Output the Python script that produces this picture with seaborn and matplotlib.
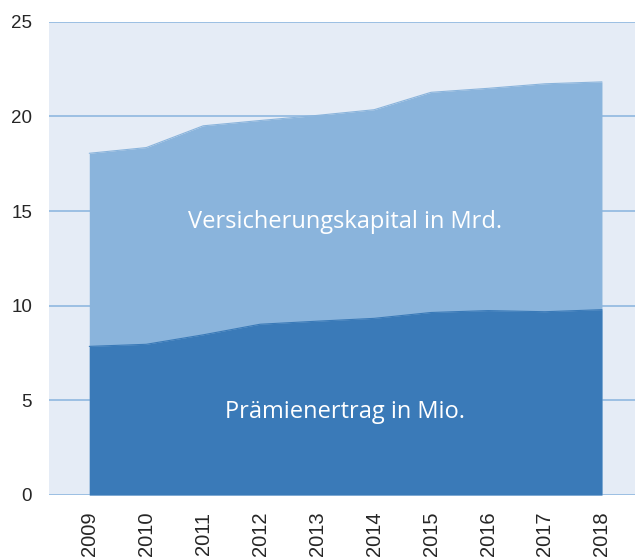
import numpy as np
import pandas as pd
import seaborn as sns
import matplotlib.pyplot as plt

jahre = [2009, 2010, 2011, 2012, 2013, 2014, 2015, 2016, 2017, 2018]
kapital = [18.05, 18.35, 19.5, 19.78, 20.05, 20.35, 21.27, 21.48, 21.72, 21.82]
praemien = [7.85, 7.96, 8.46, 9.02, 9.18, 9.33, 9.64, 9.74, 9.68, 9.79]

df = pd.DataFrame({'Jahr': jahre, 'Kapital': kapital, 'Praemien': praemien})

sns.set_style('white')
plt.rcParams['font.family'] = ['Liberation Sans', 'DejaVu Sans']

hell = '#8ab4dc'
dunkel = '#3a7ab8'
grid = '#8fb8e0'

fig = plt.figure(figsize=(6.35, 5.59), dpi=100)
ax = fig.add_axes([0.0769, 0.1145, 0.9231, 0.8467])
ax.set_facecolor('#e5ecf6')

# Flächen (nicht gestapelt, überlagert)
ax.fill_between(df['Jahr'], 0, df['Kapital'], color=hell, lw=0, zorder=2)
ax.fill_between(df['Jahr'], 0, df['Praemien'], color=dunkel, lw=0, zorder=3)
sns.lineplot(data=df, x='Jahr', y='Kapital', ax=ax, color=hell, lw=0.8, zorder=2)
sns.lineplot(data=df, x='Jahr', y='Praemien', ax=ax, color=dunkel, lw=0.8, zorder=3)

ax.set_xlim(2008.29, 2018.58)
ax.set_ylim(0, 25)
ax.set_yticks([0, 5, 10, 15, 20, 25])
ax.set_xticks(jahre)
ax.set_xticklabels([str(j) for j in jahre], rotation=90, fontsize=14.5)
ax.tick_params(axis='y', labelsize=13.5, length=5, width=1.2, color=grid, pad=7)
ax.tick_params(axis='x', length=0, pad=12)
ax.grid(axis='y', color=grid, lw=1.2)
ax.grid(axis='x', visible=False)
ax.set_axisbelow(True)
for s in ax.spines.values():
    s.set_visible(False)
ax.set_xlabel('')
ax.set_ylabel('')

ax.text(2013.49, 14.4, 'Versicherungskapital in Mrd.', color='white', fontsize=17,
        ha='center', va='center', family='Open Sans', zorder=5)
ax.text(2013.49, 4.38, 'Prämienertrag in Mio.', color='white', fontsize=17,
        ha='center', va='center', family='Open Sans', zorder=5)

fig.savefig('out.png', dpi=100)
